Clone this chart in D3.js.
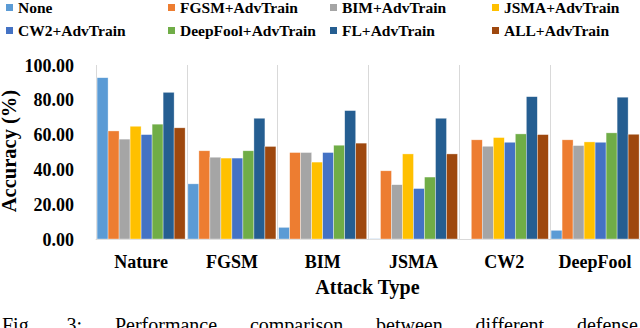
<!DOCTYPE html>
<html>
<head>
<meta charset="utf-8">
<script src="https://cdn.jsdelivr.net/npm/d3@7"></script>
<style>
    body { margin: 0; background: #fff; }
    svg text { font-family: "Liberation Serif", "Times New Roman", Times, "DejaVu Serif", serif; }
</style>
</head>
<body>
<svg></svg>
<script>
let width = 640
let height = 328
let serif = '"Liberation Serif", "Times New Roman", Times, "DejaVu Serif", serif'
let svg = d3.select('svg')
    .attr('width', width)
    .attr('height', height)
    .attr('font-family', serif)

let categories = ['Nature', 'FGSM', 'BIM', 'JSMA', 'CW2', 'DeepFool']
let seriesNames = ['None', 'FGSM+AdvTrain', 'BIM+AdvTrain', 'JSMA+AdvTrain',
    'CW2+AdvTrain', 'DeepFool+AdvTrain', 'FL+AdvTrain', 'ALL+AdvTrain']
let seriesColors = ['#5b9bd5', '#ed7d31', '#a5a5a5', '#ffc000',
    '#4472c4', '#70ad47', '#255e91', '#9e480e']
// one row per series, one value per attack type
let noneValues = [92.7, 31.7, 6.7, 0.2, 0.0, 5.0]
let fgsmValues = [62.1, 50.7, 49.7, 39.2, 57.0, 57.0]
let bimValues = [57.4, 47.0, 49.7, 31.2, 53.3, 53.7]
let jsmaValues = [64.8, 46.5, 44.2, 48.9, 58.3, 55.8]
let cw2Values = [60.0, 46.5, 49.7, 29.0, 55.6, 55.6]
let deepfoolValues = [66.0, 50.7, 53.9, 35.6, 60.4, 61.0]
let flValues = [84.3, 69.4, 73.8, 69.4, 81.8, 81.5]
let allValues = [63.9, 53.2, 55.1, 48.9, 60.0, 60.2]
let yTicks = [0, 20, 40, 60, 80, 100]
let caption = 'Fig. 3: Performance comparison between different defense'

let seriesValues = [noneValues, fgsmValues, bimValues, jsmaValues,
    cw2Values, deepfoolValues, flValues, allValues]

let plot = { left: 95.7, right: 640.5, top: 65, bottom: 239 }

let x0 = d3.scaleBand()
    .domain(categories)
    .range([plot.left, plot.right])
let x1 = d3.scaleBand()
    .domain(seriesNames)
    .range([0, x0.bandwidth()])
    .paddingOuter(0.125)
let y = d3.scaleLinear()
    .domain([0, 100])
    .range([plot.bottom, plot.top])
let color = d3.scaleOrdinal(seriesNames, seriesColors)

let table = []
categories.forEach((c, i) => {
    seriesNames.forEach((s, j) => {
        table.push({ category: c, series: s, value: seriesValues[j][i] })
    })
})

// separators between groups and baseline
let gridGroup = svg.append('g').attr('class', 'grid')
gridGroup.selectAll('line')
    .data(categories).enter()
    .append('line')
    .attr('x1', d => Math.round(x0(d)) + 0.5)
    .attr('x2', d => Math.round(x0(d)) + 0.5)
    .attr('y1', plot.top)
    .attr('y2', plot.bottom)
    .attr('stroke', '#d9d9d9')
    .attr('stroke-width', 1)
gridGroup.append('line')
    .attr('x1', plot.left)
    .attr('x2', plot.right)
    .attr('y1', plot.bottom + 0.5)
    .attr('y2', plot.bottom + 0.5)
    .attr('stroke', '#d9d9d9')

svg.append('g').attr('class', 'bars')
    .selectAll('rect')
    .data(table).enter()
    .append('rect')
    .attr('x', d => x0(d.category) + x1(d.series))
    .attr('y', d => y(d.value))
    .attr('width', x1.bandwidth())
    .attr('height', d => y(0) - y(d.value))
    .attr('fill', d => color(d.series))
    .attr('stroke', '#fff')
    .attr('stroke-opacity', 0.6)
    .attr('stroke-width', 0.6)

// y axis
let yAxis = d3.axisLeft(y)
    .tickValues(yTicks)
    .tickFormat(d3.format('.2f'))
    .tickSize(0)
    .tickPadding(0)
let yAxisGroup = svg.append('g')
    .attr('transform', 'translate(74,0)')
    .call(yAxis)
    .attr('font-family', serif)
    .attr('font-size', 18)
    .attr('font-weight', 'bold')
yAxisGroup.select('.domain').remove()
yAxisGroup.selectAll('text')
    .attr('dy', '0.34em')
    .attr('fill', '#000')

// x axis
let xAxis = d3.axisBottom(x0).tickSize(0).tickPadding(0)
let xAxisGroup = svg.append('g')
    .attr('transform', `translate(0,${plot.bottom})`)
    .call(xAxis)
    .attr('font-family', serif)
    .attr('font-size', 18)
    .attr('font-weight', 'bold')
xAxisGroup.select('.domain').remove()
xAxisGroup.selectAll('text')
    .attr('dy', null)
    .attr('y', 29)
    .attr('fill', '#000')

svg.append('text')
    .attr('x', 367.5)
    .attr('y', 294)
    .attr('text-anchor', 'middle')
    .attr('font-size', 20)
    .attr('font-weight', 'bold')
    .text('Attack Type')

svg.append('text')
    .attr('transform', `translate(16,${(plot.top + plot.bottom) / 2 - 1}) rotate(-90)`)
    .attr('text-anchor', 'middle')
    .attr('font-size', 20.5)
    .attr('font-weight', 'bold')
    .text('Accuracy (%)')

// legend, two rows of four
let legendX = d3.scalePoint().domain([0, 1, 2, 3]).range([6, 492])
let legend = svg.append('g').attr('class', 'legend')
    .selectAll('g')
    .data(seriesNames).enter()
    .append('g')
    .attr('transform', (d, i) => `translate(${legendX(i % 4)},${i < 4 ? 4 : 27})`)
legend.append('rect')
    .attr('width', 7)
    .attr('height', 7)
    .attr('fill', d => color(d))
legend.append('text')
    .attr('x', 12)
    .attr('y', 9)
    .attr('font-size', 15.5)
    .attr('font-weight', 'bold')
    .text(d => d)

// justified caption, cut off at the bottom like the source
let words = caption.split(' ')
let captionGroup = svg.append('g')
let wordEnter = captionGroup.selectAll('text')
    .data(words).enter()
    .append('text')
    .attr('y', 332)
    .attr('font-size', 20)
    .text(d => d)
let widths = []
wordEnter.each(function () { widths.push(this.getComputedTextLength()) })
let gap = (638 - 2 - d3.sum(widths)) / (words.length - 1)
let cursor = 2
wordEnter.attr('x', (d, i) => {
    let px = cursor
    cursor += widths[i] + gap
    return px
})
</script>
</body>
</html>
